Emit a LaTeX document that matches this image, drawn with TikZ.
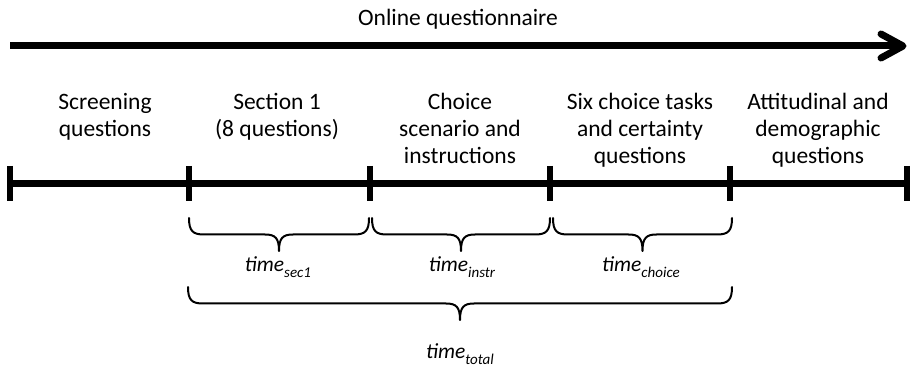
\documentclass[tikz,border=0pt]{standalone}
\usepackage{fontspec}
\setmainfont{Carlito}
\newcommand\tsub[1]{{\fontsize{15}{15}\selectfont\raisebox{-6pt}{#1}}}
\newcommand\drawbrace[4]{%
  \pgfmathsetmacro\bxm{(#1+#2)/2}%
  \pgfmathsetmacro\bh{#4/2}%
  \draw[bracepath] (#1,#3) .. controls (#1,#3+0.8*\bh) and (#1+4,#3+\bh) .. (#1+15,#3+\bh)
    -- (\bxm-14,#3+\bh) .. controls (\bxm-4,#3+\bh) and (\bxm,#3+1.2*\bh) .. (\bxm,#3+#4)
    .. controls (\bxm,#3+1.2*\bh) and (\bxm+4,#3+\bh) .. (\bxm+14,#3+\bh)
    -- (#2-15,#3+\bh) .. controls (#2-4,#3+\bh) and (#2,#3+0.8*\bh) .. (#2,#3);
}
\begin{document}
\begin{tikzpicture}[x=1pt,y=-1pt,
  lbl/.style={anchor=north, inner sep=0pt, align=center, font=\fontsize{23.5}{27}\selectfont},
  ttl/.style={anchor=base, inner sep=0pt, font=\fontsize{23.5}{27}\selectfont},
  tlbl/.style={anchor=base, inner sep=0pt, font=\fontsize{21.5}{24}\selectfont\itshape},
  axisline/.style={line width=7pt},
  tickline/.style={line width=6pt},
  chevron/.style={line width=7pt, line cap=round, line join=round},
  bracepath/.style={line width=2pt, line cap=round, line join=round},
]
\useasboundingbox (0,0) rectangle (911,366);

% top arrow
\node[ttl] (title) at (458,26) {Online questionnaire};
\coordinate (a0) at (10,46);
\coordinate (a1) at (903,46);
\draw[axisline] (a0) -- ([xshift=-3pt]a1);
\draw[chevron] (881,34) -- (a1) -- (881,58);

% stage labels
\node[lbl] (l1) at (105,90.1) {\strut Screening\\questions};
\node[lbl] (l2) at (277,90.1) {\strut Section 1\\(8 questions)};
\node[lbl] (l3) at (460,90.1) {\strut Choice\\scenario and\\instructions};
\node[lbl] (l4) at (640,90.1) {\strut Six choice tasks\\and certainty\\questions};
\node[lbl] (l5) at (818,90.1) {\strut Attitudinal and\\demographic\\questions};

% timeline
\coordinate (t0) at (10,184);
\coordinate (t1) at (189,184);
\coordinate (t2) at (370,184);
\coordinate (t3) at (550,184);
\coordinate (t4) at (730,184);
\coordinate (t5) at (907,184);
\draw[axisline] (t0) -- (t5);
\foreach \t in {t0,t1,t2,t3,t4,t5}
  \draw[tickline] ([yshift=18pt]\t) -- ([yshift=-17pt]\t);

% braces
\drawbrace{189}{369}{218}{33}
\drawbrace{372}{550}{218}{33}
\drawbrace{553}{732}{218}{33}
\drawbrace{188}{732}{287}{33}

\node[tlbl] (ts1) at (278,272) {time\tsub{sec1}};
\node[tlbl] (ts2) at (462,272) {time\tsub{instr}};
\node[tlbl] (ts3) at (641,272) {time\tsub{choice}};
\node[tlbl] (ts4) at (460,358) {time\tsub{total}};
\end{tikzpicture}
\end{document}
